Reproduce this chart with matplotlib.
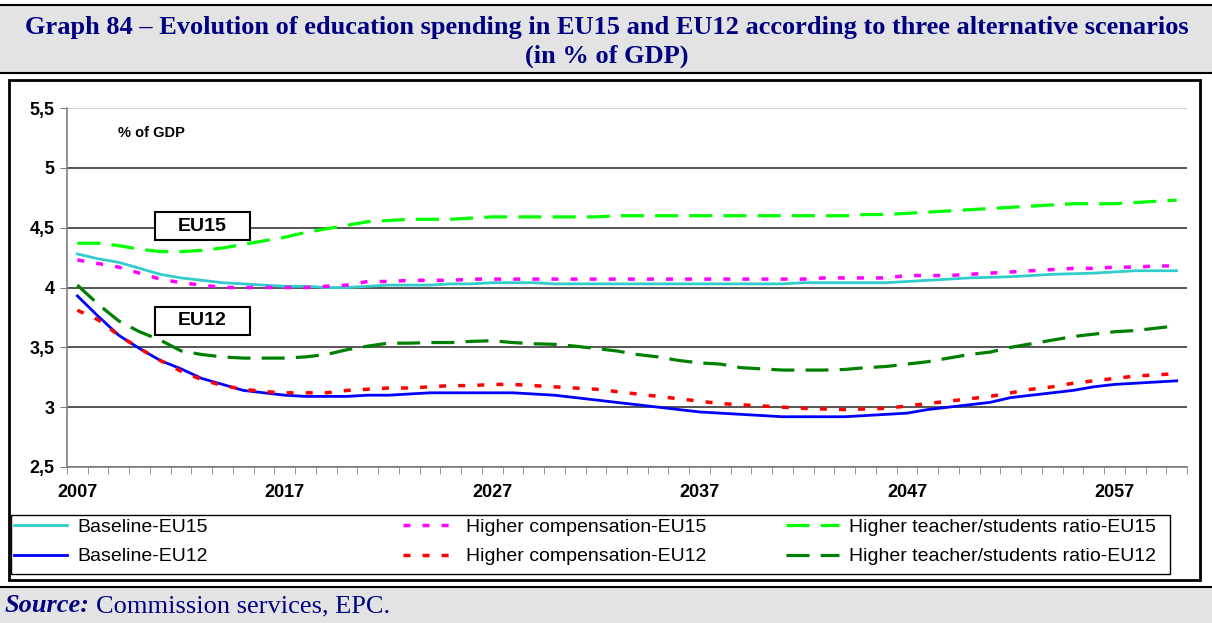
import matplotlib
matplotlib.use("Agg")
import matplotlib.pyplot as plt
from matplotlib.patches import Rectangle
import numpy as np

# ---- data (% of GDP), 2007-2060 ----
years = list(range(2007, 2061))

baseline_eu15 = [4.28, 4.24, 4.21, 4.16, 4.11, 4.08, 4.06, 4.04, 4.03, 4.02,
                 4.01, 4.01, 4.00, 4.00, 4.01, 4.02, 4.02, 4.02, 4.03, 4.03,
                 4.04, 4.04, 4.04, 4.03, 4.03, 4.03, 4.03, 4.03, 4.03, 4.03,
                 4.03, 4.03, 4.03, 4.03, 4.03, 4.04, 4.04, 4.04, 4.04, 4.04,
                 4.05, 4.06, 4.07, 4.08, 4.085, 4.09, 4.10, 4.11, 4.115, 4.12,
                 4.13, 4.14, 4.14, 4.14]
compensation_eu15 = [4.23, 4.20, 4.17, 4.12, 4.07, 4.04, 4.02, 4.00, 4.00, 4.00,
                     4.00, 4.00, 4.01, 4.02, 4.05, 4.05, 4.06, 4.06, 4.06, 4.07,
                     4.07, 4.07, 4.07, 4.07, 4.07, 4.07, 4.07, 4.07, 4.07, 4.07,
                     4.07, 4.07, 4.07, 4.07, 4.07, 4.07, 4.08, 4.08, 4.08, 4.08,
                     4.10, 4.10, 4.10, 4.11, 4.12, 4.13, 4.14, 4.15, 4.16, 4.16,
                     4.17, 4.17, 4.18, 4.18]
ratio_eu15 = [4.37, 4.37, 4.35, 4.32, 4.30, 4.30, 4.31, 4.33, 4.36, 4.39,
              4.42, 4.46, 4.49, 4.52, 4.55, 4.56, 4.57, 4.57, 4.57, 4.58,
              4.59, 4.59, 4.59, 4.59, 4.59, 4.59, 4.60, 4.60, 4.60, 4.60,
              4.60, 4.60, 4.60, 4.60, 4.60, 4.60, 4.60, 4.60, 4.61, 4.61,
              4.62, 4.63, 4.64, 4.65, 4.66, 4.67, 4.68, 4.69, 4.70, 4.70,
              4.70, 4.71, 4.72, 4.73]
baseline_eu12 = [3.93, 3.76, 3.60, 3.49, 3.39, 3.32, 3.24, 3.19, 3.14, 3.12,
                 3.10, 3.09, 3.09, 3.09, 3.10, 3.10, 3.11, 3.12, 3.12, 3.12,
                 3.12, 3.12, 3.11, 3.10, 3.08, 3.06, 3.04, 3.02, 3.00, 2.98,
                 2.96, 2.95, 2.94, 2.93, 2.92, 2.92, 2.92, 2.92, 2.93, 2.94,
                 2.95, 2.98, 3.00, 3.02, 3.04, 3.08, 3.10, 3.12, 3.14, 3.17,
                 3.19, 3.20, 3.21, 3.22]
compensation_eu12 = [3.81, 3.73, 3.60, 3.49, 3.39, 3.30, 3.23, 3.18, 3.15, 3.13,
                     3.12, 3.12, 3.12, 3.14, 3.15, 3.16, 3.16, 3.17, 3.18, 3.18,
                     3.19, 3.19, 3.18, 3.17, 3.16, 3.15, 3.13, 3.11, 3.09, 3.07,
                     3.05, 3.03, 3.02, 3.01, 3.00, 2.99, 2.985, 2.98, 2.985, 2.99,
                     3.01, 3.03, 3.05, 3.07, 3.09, 3.12, 3.15, 3.17, 3.20, 3.22,
                     3.24, 3.26, 3.27, 3.28]
ratio_eu12 = [4.02, 3.86, 3.72, 3.63, 3.56, 3.47, 3.44, 3.42, 3.41, 3.41,
              3.41, 3.42, 3.44, 3.48, 3.51, 3.535, 3.535, 3.54, 3.54, 3.55,
              3.555, 3.54, 3.53, 3.525, 3.51, 3.49, 3.47, 3.44, 3.42, 3.39,
              3.37, 3.36, 3.33, 3.32, 3.31, 3.31, 3.31, 3.315, 3.33, 3.34,
              3.36, 3.38, 3.41, 3.44, 3.46, 3.50, 3.53, 3.56, 3.59, 3.61,
              3.63, 3.64, 3.66, 3.68]

y_ticks = [2.5, 3, 3.5, 4, 4.5, 5, 5.5]
y_tick_labels = ['2,5', '3', '3,5', '4', '4,5', '5', '5,5']
x_label_years = [2007, 2017, 2027, 2037, 2047, 2057]

title = ('Graph 84 \u2013 Evolution of education spending in EU15 and EU12 '
         'according to three alternative scenarios\n(in % of GDP)')

W, H = 1212, 623
NAVY = '#000080'
BAND = '#e3e3e3'
SANS = 'Liberation Sans'
SERIF = 'Liberation Serif'


def fx(px):
    return px / W


def fy(py):
    return 1 - py / H


fig = plt.figure(figsize=(W / 100, H / 100), dpi=100)
fig.patch.set_facecolor('white')

# title band, source band and the white chart frame
fig.add_artist(Rectangle((0, fy(73)), 1, fy(5) - fy(73), transform=fig.transFigure,
                         facecolor=BAND, edgecolor='none', zorder=-3))
fig.add_artist(plt.Line2D([0, 1], [fy(5), fy(5)], transform=fig.transFigure,
                          color='black', lw=1.5, zorder=-2))
fig.add_artist(plt.Line2D([0, 1], [fy(73), fy(73)], transform=fig.transFigure,
                          color='black', lw=1.5, zorder=-2))
fig.add_artist(Rectangle((0, 0), 1, fy(587), transform=fig.transFigure,
                         facecolor=BAND, edgecolor='none', zorder=-3))
fig.add_artist(plt.Line2D([0, 1], [fy(587), fy(587)], transform=fig.transFigure,
                          color='black', lw=1.5, zorder=-2))
fig.add_artist(Rectangle((fx(9), fy(580)), fx(1200) - fx(9), fy(80) - fy(580),
                         transform=fig.transFigure, facecolor='white',
                         edgecolor='black', lw=2, zorder=-1))

fig.text(0.501, fy(42), title, ha='center', va='center', color=NAVY,
         fontsize=19, fontweight='bold', family=SERIF, linespacing=1.32)

# source line: bold italic "Source:" followed by plain text
src = fig.text(fx(5), fy(606), 'Source:', ha='left', va='center', color=NAVY,
               fontsize=19, fontweight='bold', style='italic', family=SERIF)
fig.canvas.draw()
src_end = src.get_window_extent().x1
fig.text((src_end + 6) / W, fy(606), 'Commission services, EPC.', ha='left',
         va='center', color=NAVY, fontsize=19, family=SERIF)

# ---- plot area ----
ax = fig.add_axes([fx(67), fy(467), fx(1187) - fx(67), fy(108) - fy(467)])
ax.set_facecolor('none')

lines = {}
lines['base15'], = ax.plot(years, baseline_eu15, color='#33cccc', lw=2.0,
                           label='Baseline-EU15')
lines['base12'], = ax.plot(years, baseline_eu12, color='#0000ff', lw=2.0,
                           label='Baseline-EU12')
lines['comp15'], = ax.plot(years, compensation_eu15, color='#ff00ff', lw=2.5,
                           dashes=(2.0, 3.5), label='Higher compensation-EU15')
lines['comp12'], = ax.plot(years, compensation_eu12, color='#ff0000', lw=2.5,
                           dashes=(2.0, 3.5), label='Higher compensation-EU12')
lines['ratio15'], = ax.plot(years, ratio_eu15, color='#00ff00', lw=2.3,
                            dashes=(7.2, 3.5), label='Higher teacher/students ratio-EU15')
lines['ratio12'], = ax.plot(years, ratio_eu12, color='#008000', lw=2.3,
                            dashes=(7.2, 3.5), label='Higher teacher/students ratio-EU12')

ax.set_xlim(2006.5, 2060.5)
ax.set_ylim(2.5, 5.5)
ax.set_yticks(y_ticks)
ax.set_yticklabels(y_tick_labels)
ax.set_xticks(x_label_years)
ax.set_xticklabels([str(y) for y in x_label_years])
ax.set_xticks(np.arange(2006.5, 2061, 1), minor=True)

ax.tick_params(axis='x', which='major', length=0, pad=12)
ax.tick_params(axis='x', which='minor', length=5, direction='out', color='#808080')
ax.tick_params(axis='y', length=5, direction='out', color='#808080', pad=4)
for lab in ax.get_xticklabels() + ax.get_yticklabels():
    lab.set_fontsize(13)
    lab.set_fontweight('bold')
    lab.set_family(SANS)

ax.yaxis.grid(True, color='#383838', lw=1.2)
ax.get_ygridlines()[-1].set_color('#c8c8c8')
ax.set_axisbelow(True)
for side in ['top', 'right']:
    ax.spines[side].set_visible(False)
for side in ['left', 'bottom']:
    ax.spines[side].set_color('#808080')
    ax.spines[side].set_linewidth(1.2)

ax.text((118 - 67) / 1120, 0.93, '% of GDP', transform=ax.transAxes,
        ha='left', va='center', fontsize=10.5, fontweight='bold', family=SANS)

# EU15 / EU12 boxes
for label, y0 in [('EU15', 0.632), ('EU12', 0.368)]:
    ax.add_patch(Rectangle((0.0786, y0), 0.0848, 0.078, transform=ax.transAxes,
                           facecolor='white', edgecolor='black', lw=1.5, zorder=5))
    ax.text(0.0786 + 0.0424, y0 + 0.039, label, transform=ax.transAxes,
            ha='center', va='center', fontsize=14, fontweight='bold',
            family=SANS, zorder=6)

# ---- legend: framed box with three columns ----
fig.add_artist(Rectangle((fx(11), fy(574)), fx(1170) - fx(11), fy(515) - fy(574),
                         transform=fig.transFigure, facecolor='white',
                         edgecolor='black', lw=1.0, zorder=1))
col_x = [14, 403, 786]
pairs = [('base15', 'base12'), ('comp15', 'comp12'), ('ratio15', 'ratio12')]
for x0, (a, b) in zip(col_x, pairs):
    leg = fig.legend([lines[a], lines[b]], [lines[a].get_label(), lines[b].get_label()],
                     loc='center left', bbox_to_anchor=(fx(x0), fy(542)),
                     frameon=False, borderpad=0, borderaxespad=0,
                     handlelength=2.7, handletextpad=0.55, labelspacing=0.6,
                     prop={'family': SANS, 'size': 14})
    leg.set_zorder(2)

fig.savefig('out.png', dpi=100)
